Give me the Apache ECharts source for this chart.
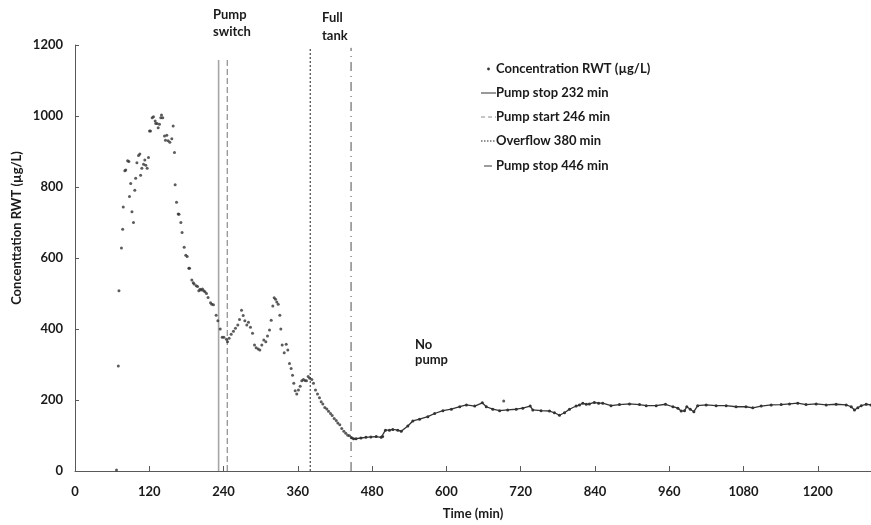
<!DOCTYPE html>
<html>
<head>
<meta charset="utf-8">
<script src="https://cdn.jsdelivr.net/npm/echarts@6/dist/echarts.min.js"></script>
<style>
  html, body { margin: 0; padding: 0; background: #fff; }
  #chart { width: 871px; height: 525px; }
</style>
</head>
<body>
<div id="chart"></div>
<script>
// Concentration RWT (µg/L) over time (min) — individual samples, early phase
const earlyTime = [67, 70, 71, 75, 77, 78, 80.5, 82, 85, 87, 88, 90, 92, 94.5, 96.6, 98, 100, 102.6, 104.7, 106, 108, 110.7, 112.8, 114.4, 116.6, 118.7,
  120.4, 122, 124.7, 126.8, 129.5, 130.5, 132.7, 134.4, 136.5, 138.6, 139.7, 141.8, 144.6, 146.2, 148.3, 150.5, 153.2, 156.4, 158.6, 160.7, 161.8,
  164, 166.7, 168, 171, 173, 176.4, 179, 181.2, 183.9, 185, 188.7, 191, 192.5, 195.8, 198, 200, 202, 204, 206, 208, 210, 212.4, 215, 219, 221, 223.7,
  228, 230.8, 234.6, 237.8, 240.5, 244.7, 246.4, 249, 252.3, 256, 259.3, 263, 265.8, 269, 271.7, 274.4, 277.6, 280.3, 283.5, 286.8, 290, 292.7, 296,
  298.6, 301.8, 305, 308.3, 311, 314.2, 317, 319.6, 321.8, 324, 326, 328.3, 330.9, 332.5, 334.7, 338, 341.2, 343.8, 346.5, 349.2, 351.4, 353.5, 355.7,
  358.3, 361, 363.8, 366.4, 369, 371.5, 374, 376.7, 379.3, 382.6, 385.3, 388.5, 391.8, 395, 397.7, 400.4, 403.6, 406.8, 409.6, 412.8, 415.5, 418.7,
  422, 424.6, 427.8, 431, 434.3, 437.5, 440.7, 443.5];
const earlyConc = [3, 296, 508, 628, 681, 744, 846, 848, 874, 872, 773, 810, 730, 700, 791, 825, 868, 889, 893, 833, 853, 864, 876, 861, 853, 883,
  958, 958, 995, 998, 986, 979, 979, 967, 977, 995, 1003, 995, 944, 932, 946, 930, 926, 936, 972, 897, 806,
  757, 724, 723, 700, 672, 630, 608, 604, 571, 571, 538, 530, 527, 522, 520, 508, 512, 510, 513, 508, 505, 500, 489, 474, 470, 468,
  439, 423, 400, 377, 377, 371, 364, 374, 385, 394, 402, 411, 427, 453, 438, 423, 411, 419, 405, 388, 355, 347, 344,
  341, 355, 369, 364, 380, 397, 425, 465, 488, 484, 476, 470, 439, 400, 355, 333, 357, 341, 303, 289, 270, 247, 226,
  217, 228, 239, 254, 258, 255, 254, 266, 261, 258, 247, 228, 217, 206, 195, 189, 179, 175, 168, 162, 156, 148,
  142, 135, 130, 120, 112, 106, 101, 99];

// Continuous record after the pump stopped
const tailTime = [446.7, 450, 454, 462, 470, 478, 486.6, 494.7, 497, 501.6, 508, 513.4, 521.5, 527, 537.7, 545.8, 556.6, 570, 581, 594.4, 608, 621.6,
  632.4, 645.8, 658, 664.5, 675, 686, 699, 712.8, 723.4, 735.4, 739.6, 753, 766.6, 774.6, 782.7, 790.8, 798.9, 809.6, 815, 820.4, 826, 831, 839, 846,
  852.6, 866, 879.6, 895.8, 912, 922.8, 939, 954, 966, 974, 979.3, 984.7, 988.4, 994, 999.8, 1006, 1019.7, 1035.8, 1052, 1068, 1084, 1095, 1108.6,
  1124.7, 1140.9, 1154.3, 1167.7, 1181, 1197.4, 1213.6, 1229.7, 1245.9, 1254, 1259.3, 1264.7, 1270.2, 1278.2, 1286];
const tailConc = [94, 91, 91, 93, 95, 96, 97, 95, 97, 115, 115, 117, 115, 112, 127, 141, 146, 153, 162, 170, 174, 181,
  186, 183, 192, 181, 174, 170, 172, 174, 177, 183, 172, 170, 169, 164, 157, 164, 174, 183, 186, 191, 188, 189, 193, 191,
  191, 184, 187, 189, 187, 184, 184, 188, 181, 177, 169, 170, 181, 174, 167, 184, 186, 184, 184, 181, 181, 178, 183,
  186, 187, 189, 191, 187, 189, 186, 188, 186, 181, 172, 178, 184, 188, 186];

// Single stray sample
const strayTime = [692.6];
const strayConc = [197];

// Event markers (min) and how high each marker line reaches
const eventNames = ['Pump stop 232 min', 'Pump start 246 min', 'Overflow 380 min', 'Pump stop 446 min'];
const eventTimes = [232, 246, 380, 446];
const eventTops = [1158, 1158, 1192, 1192];

const xTicks = [0, 120, 240, 360, 480, 600, 720, 840, 960, 1080, 1200];
const yTicks = [0, 200, 400, 600, 800, 1000, 1200];

const FONT = 'Lato, "Liberation Sans", sans-serif';
const dotColor = '#333333';

const eventStyles = [
  { color: '#a6a6a6', width: 1.6, type: 'solid' },
  { color: '#8c8c8c', width: 1.2, type: [6, 3] },
  { color: '#222222', width: 1, type: [2, 2] },
  { color: '#3a3a3a', width: 0.9, type: [9, 5, 1, 5] }
];

const eventSeries = eventTimes.map((t, i) => ({
  name: eventNames[i],
  type: 'line',
  data: [[t, 0], [t, eventTops[i]]],
  symbol: 'none',
  silent: true,
  lineStyle: eventStyles[i],
  z: 1
}));

const chart = echarts.init(document.getElementById('chart'), null, { renderer: 'canvas' });

// Legend rows drawn by hand so each key matches its marker line
const legendX = 481, legendTextX = 496;
const legendRows = [69, 93, 117, 141, 166];
const legendTexts = ['Concentration RWT (µg/L)'].concat(eventNames);
const legendGraphics = [];
legendRows.forEach((y, i) => {
  if (i === 0) {
    legendGraphics.push({ type: 'circle', shape: { cx: 488.5, cy: y, r: 1.4 }, style: { fill: dotColor } });
  } else {
    const st = eventStyles[i - 1];
    const x1 = i === 4 ? 484 : legendX;
    const x2 = i === 4 ? 492 : legendTextX;
    legendGraphics.push({
      type: 'line', shape: { x1: x1, y1: y, x2: x2, y2: y },
      style: { stroke: i === 1 ? '#333' : st.color, lineWidth: 1, lineDash: i === 2 ? [4, 3] : (i === 3 ? [1.5, 1.5] : null) }
    });
  }
  legendGraphics.push({
    type: 'text', x: legendTextX, y: y,
    style: { text: legendTexts[i], font: 'bold 13px ' + FONT, fill: '#1a1a1a', textVerticalAlign: 'middle' }
  });
});

const annotations = [
  { x: 213, y: 15, text: 'Pump' }, { x: 213, y: 32, text: 'switch' },
  { x: 322, y: 18, text: 'Full' }, { x: 322, y: 36, text: 'tank' },
  { x: 415, y: 345, text: 'No' }, { x: 415, y: 360, text: 'pump' }
].map(a => ({
  type: 'text', x: a.x, y: a.y,
  style: { text: a.text, font: 'bold 13px ' + FONT, fill: '#1a1a1a', textVerticalAlign: 'middle' }
}));

chart.setOption({
  animation: false,
  backgroundColor: '#ffffff',
  grid: { left: 75, right: 0, top: 45, bottom: 54, containLabel: false },
  xAxis: {
    type: 'value', min: 0, max: 1286, interval: 120,
    name: 'Time (min)', nameLocation: 'middle', nameGap: 36,
    nameTextStyle: { fontFamily: FONT, fontWeight: 'bold', fontSize: 13, color: '#1a1a1a' },
    axisLine: { lineStyle: { color: '#595959', width: 1 } },
    axisTick: { inside: true, length: 5, lineStyle: { color: '#595959' } },
    axisLabel: {
      margin: 14, fontFamily: FONT, fontWeight: 'bold', fontSize: 13, color: '#1a1a1a',
      showMaxLabel: false,
      formatter: v => (xTicks.indexOf(v) >= 0 ? String(v) : '')
    },
    splitLine: { show: false }
  },
  yAxis: {
    type: 'value', min: 0, max: 1200, interval: 200,
    axisLine: { show: true, lineStyle: { color: '#595959', width: 1 } },
    axisTick: { show: true, inside: true, length: 4, lineStyle: { color: '#595959' } },
    axisLabel: {
      margin: 12, fontFamily: FONT, fontWeight: 'bold', fontSize: 13, color: '#1a1a1a',
      formatter: v => (yTicks.indexOf(v) >= 0 ? String(v) : '')
    },
    splitLine: { show: false }
  },
  graphic: [
    {
      type: 'text', x: 17, y: 228, rotation: Math.PI / 2, originX: 0, originY: 0,
      style: { text: 'Concenttation RWT (µg/L)', font: 'bold 13px ' + FONT, fill: '#1a1a1a', textAlign: 'center', textVerticalAlign: 'middle' }
    }
  ].concat(legendGraphics, annotations),
  series: eventSeries.concat([
    {
      name: 'Concentration RWT (µg/L)',
      type: 'scatter',
      data: earlyTime.map((t, i) => [t, earlyConc[i]]),
      symbol: 'circle', symbolSize: 3,
      itemStyle: { color: dotColor },
      z: 3
    },
    {
      name: 'Concentration RWT (µg/L)',
      type: 'line',
      data: tailTime.map((t, i) => [t, tailConc[i]]),
      showSymbol: true, symbol: 'circle', symbolSize: 3,
      itemStyle: { color: dotColor },
      lineStyle: { color: dotColor, width: 1.3 },
      z: 3
    },
    {
      name: 'Concentration RWT (µg/L)',
      type: 'scatter',
      data: strayTime.map((t, i) => [t, strayConc[i]]),
      symbolSize: 3,
      itemStyle: { color: dotColor },
      z: 3
    }
  ])
});
</script>
</body>
</html>
